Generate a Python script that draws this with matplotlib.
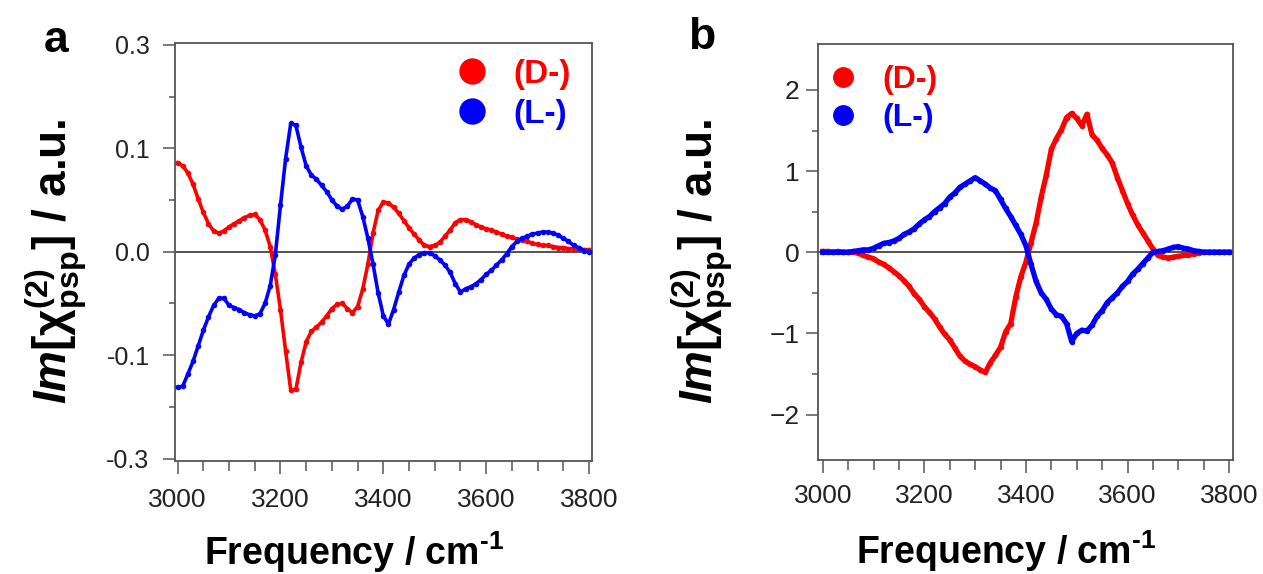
import numpy as np
import matplotlib
matplotlib.use('Agg')
import matplotlib.pyplot as plt
from matplotlib.lines import Line2D

plt.rcParams['font.family'] = ['Liberation Sans', 'DejaVu Sans']
plt.rcParams['mathtext.fontset'] = 'custom'
plt.rcParams['mathtext.rm'] = 'Liberation Sans:bold'
plt.rcParams['mathtext.it'] = 'Liberation Sans:bold:italic'
plt.rcParams['mathtext.bf'] = 'Liberation Sans:bold'

# frequency grid (cm-1), values every 10 cm-1
freq = np.arange(3000, 3801, 10)

# panel a
d_a = [0.086, 0.083, 0.076, 0.065, 0.051, 0.038, 0.027, 0.020, 0.018, 0.020,
       0.024, 0.027, 0.030, 0.033, 0.035, 0.036, 0.031, 0.021, 0.005, -0.022,
       -0.056, -0.096, -0.134, -0.133, -0.107, -0.087, -0.077, -0.073, -0.068, -0.062,
       -0.055, -0.051, -0.050, -0.055, -0.059, -0.053, -0.036, -0.012, 0.018, 0.040,
       0.048, 0.047, 0.043, 0.037, 0.030, 0.023, 0.017, 0.011, 0.006, 0.005,
       0.006, 0.009, 0.015, 0.021, 0.028, 0.031, 0.031, 0.029, 0.026, 0.024,
       0.022, 0.021, 0.019, 0.017, 0.015, 0.014, 0.012, 0.011, 0.010, 0.008,
       0.007, 0.006, 0.006, 0.005, 0.004, 0.004, 0.003, 0.003, 0.003, 0.002,
       0.002]
l_a = [-0.131, -0.130, -0.118, -0.106, -0.091, -0.076, -0.063, -0.052, -0.045, -0.045,
       -0.052, -0.054, -0.056, -0.059, -0.061, -0.062, -0.060, -0.050, -0.033, -0.003,
       0.045, 0.090, 0.124, 0.122, 0.101, 0.083, 0.074, 0.070, 0.064, 0.058,
       0.050, 0.044, 0.041, 0.044, 0.051, 0.050, 0.034, 0.013, -0.012, -0.040,
       -0.062, -0.070, -0.056, -0.039, -0.023, -0.012, -0.006, -0.003, -0.001, -0.001,
       -0.004, -0.008, -0.013, -0.020, -0.031, -0.039, -0.036, -0.034, -0.031, -0.027,
       -0.022, -0.018, -0.013, -0.008, -0.002, 0.005, 0.010, 0.013, 0.015, 0.017,
       0.018, 0.019, 0.019, 0.018, 0.016, 0.013, 0.010, 0.006, 0.004, 0.001,
       0.000]

# panel b
d_b = [0.01, 0.01, 0.00, 0.01, 0.00, 0.00, 0.00, -0.01, -0.04, -0.06,
       -0.08, -0.12, -0.15, -0.19, -0.24, -0.29, -0.35, -0.42, -0.51, -0.58,
       -0.67, -0.74, -0.82, -0.92, -1.01, -1.08, -1.18, -1.28, -1.34, -1.38,
       -1.41, -1.45, -1.48, -1.36, -1.27, -1.17, -0.98, -0.88, -0.55, -0.30,
       -0.12, 0.12, 0.36, 0.68, 0.95, 1.27, 1.40, 1.51, 1.66, 1.71,
       1.65, 1.56, 1.70, 1.45, 1.38, 1.28, 1.20, 1.10, 0.92, 0.76,
       0.60, 0.46, 0.34, 0.24, 0.14, 0.04, -0.04, -0.06, -0.07, -0.06,
       -0.05, -0.04, -0.03, -0.02, -0.01, 0.00, 0.00, 0.00, 0.00, 0.00,
       0.00]
l_b = [0.00, 0.00, 0.00, 0.00, 0.00, 0.00, 0.01, 0.02, 0.03, 0.03,
       0.05, 0.08, 0.11, 0.12, 0.14, 0.17, 0.22, 0.25, 0.29, 0.35,
       0.40, 0.44, 0.50, 0.55, 0.60, 0.68, 0.73, 0.80, 0.84, 0.88,
       0.92, 0.88, 0.84, 0.79, 0.76, 0.65, 0.54, 0.44, 0.33, 0.22,
       0.08, -0.15, -0.36, -0.50, -0.58, -0.70, -0.77, -0.79, -0.88, -1.10,
       -1.00, -0.96, -0.97, -0.90, -0.79, -0.72, -0.62, -0.56, -0.50, -0.42,
       -0.36, -0.27, -0.21, -0.14, -0.07, 0.00, 0.01, 0.02, 0.04, 0.06,
       0.07, 0.05, 0.04, 0.02, 0.01, 0.00, 0.00, 0.00, 0.00, 0.00,
       0.00]

# tick labels as printed in panel a
ya_ticks = [-0.2, -0.1, 0.0, 0.1, 0.2]
ya_labels = ['-0.3', '-0.1', '0.0', '0.1', '0.3']
yb_ticks = [-2, -1, 0, 1, 2]
x_ticks = [3000, 3200, 3400, 3600, 3800]

RED = '#ff0000'
BLUE = '#0000ff'
SPINE = '#555555'
ylab = r'$\mathit{Im}[\mathrm{\chi}^{(2)}_{\mathrm{psp}}]$ / a.u.'
xlab = r'Frequency / cm$^{\text{-1}}$'

fig = plt.figure(figsize=(12.63, 5.74), dpi=100)
ax1 = fig.add_axes([0.1382, 0.1974, 0.3306, 0.7282])
ax2 = fig.add_axes([0.6474, 0.1986, 0.3286, 0.7253])


def style(ax, ypad, xpad, ysize):
    for s in ax.spines.values():
        s.set_color(SPINE)
        s.set_linewidth(1.3)
    ax.tick_params(which='both', direction='out', color=SPINE, width=1.1,
                   labelcolor='#222222')
    ax.tick_params(axis='x', labelsize=19)
    ax.tick_params(axis='y', labelsize=ysize)
    ax.tick_params(axis='y', which='major', length=9, pad=ypad)
    ax.tick_params(axis='y', which='minor', length=4.5)
    ax.tick_params(axis='x', which='major', length=9, pad=xpad)
    ax.tick_params(axis='x', which='minor', length=7)
    ax.set_xticks(x_ticks)
    ax.set_xticks(np.arange(3000, 3801, 50), minor=True)
    ax.axhline(0, color='#222222', lw=1.1, zorder=1)


# panel a
ax1.plot(freq, d_a, '-o', color=RED, lw=2.6, ms=4, mew=0, zorder=3)
ax1.plot(freq, l_a, '-o', color=BLUE, lw=2.6, ms=4, mew=0, zorder=3)
ax1.set_xlim(2994, 3806)
ax1.set_ylim(-0.202, 0.202)
ax1.set_yticks(ya_ticks)
ax1.set_yticklabels(ya_labels)
ax1.set_yticks([-0.15, -0.05, 0.05, 0.15], minor=True)
style(ax1, 9, 11, 18)
ax1.set_ylabel(ylab, fontsize=33, fontweight='bold')
ax1.yaxis.set_label_coords(-0.205, 0.478)
ax1.set_xlabel(xlab, fontsize=27, fontweight='bold')
ax1.xaxis.set_label_coords(0.43, -0.165)
ax1.text(-0.284, 1.006, 'a', transform=ax1.transAxes, fontsize=32,
         fontweight='bold', ha='center', va='center')

# panel b
ax2.plot(freq, d_b, '-o', color=RED, lw=3.8, ms=4, mew=0, zorder=3)
ax2.plot(freq, l_b, '-o', color=BLUE, lw=3.8, ms=4, mew=0, zorder=3)
ax2.set_xlim(2990, 3807)
ax2.set_ylim(-2.56, 2.57)
ax2.set_yticks(yb_ticks)
ax2.set_yticks([-1.5, -0.5, 0.5, 1.5], minor=True)
style(ax2, 4, 8, 19)
ax2.set_ylabel(ylab, fontsize=33, fontweight='bold')
ax2.yaxis.set_label_coords(-0.2, 0.478)
ax2.set_xlabel(xlab, fontsize=27, fontweight='bold')
ax2.xaxis.set_label_coords(0.455, -0.165)
ax2.text(-0.279, 1.014, 'b', transform=ax2.transAxes, fontsize=32,
         fontweight='bold', ha='center', va='center')

# legends
for ax, ms, fs, anchor, sp in [(ax1, 18, 24, (0.608, 1.025), 0.27),
                               (ax2, 14, 23, (-0.04, 1.01), 0.24)]:
    handles = [Line2D([], [], ls='none', marker='o', color=RED, ms=ms),
               Line2D([], [], ls='none', marker='o', color=BLUE, ms=ms)]
    ax.legend(handles, ['(D-)', '(L-)'], loc='upper left', bbox_to_anchor=anchor,
              frameon=False, handlelength=1.0, handletextpad=0.75,
              labelspacing=sp, borderpad=0.3, labelcolor=[RED, BLUE],
              prop={'size': fs, 'weight': 'bold'})

fig.savefig('out.png', dpi=100)
